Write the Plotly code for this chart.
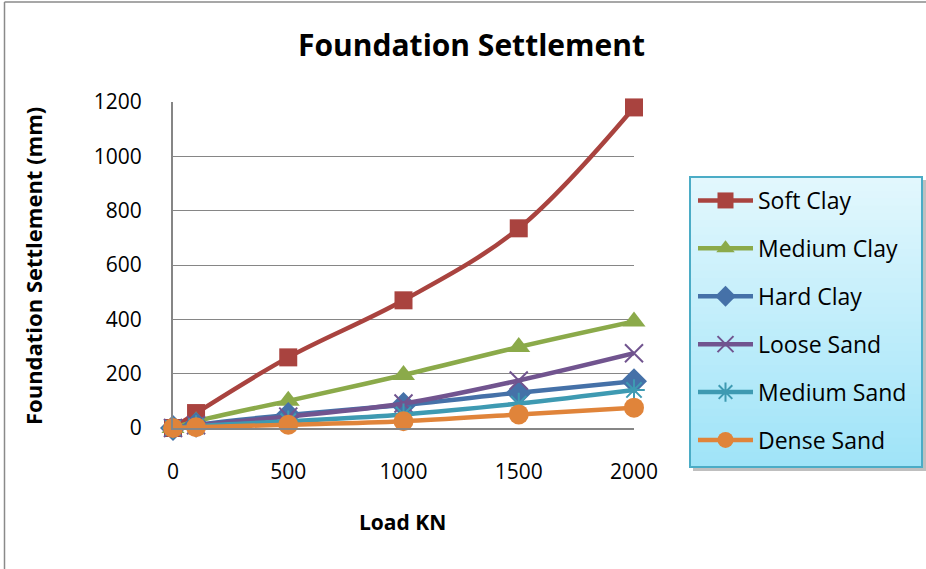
import plotly.graph_objects as go

# ---- data -------------------------------------------------------------
load_kn = [0, 100, 500, 1000, 1500, 2000]
soft_clay = [0, 55, 260, 470, 735, 1180]
medium_clay = [0, 25, 100, 195, 298, 392]
hard_clay = [0, 12, 48, 85, 130, 172]
loose_sand = [0, 10, 42, 90, 175, 275]
medium_sand = [0, 7, 25, 50, 90, 140]
dense_sand = [0, 3, 12, 25, 50, 75]

x_ticks = [0, 500, 1000, 1500, 2000]
y_ticks = [0, 200, 400, 600, 800, 1000, 1200]

series = [
    ("Soft Clay", soft_clay, "#A9433F", "square", 18),
    ("Medium Clay", medium_clay, "#8BAA4A", "triangle-up", 20),
    ("Hard Clay", hard_clay, "#4571A8", "diamond", 20),
    ("Loose Sand", loose_sand, "#71548F", "x-thin-open", 18),
    ("Medium Sand", medium_sand, "#3E9AB2", "asterisk-open", 18),
    ("Dense Sand", dense_sand, "#E0843A", "circle", 20),
]

# ---- page geometry ----------------------------------------------------
W, H = 926, 569
L, R, T, B = 173, 292, 102, 141
PW, PH = W - L - R, H - T - B
FONT = "Open Sans"


def px_x(px):
    return (px - L) / PW


def px_y(py):
    return (H - B - py) / PH


fig = go.Figure()

for i, (name, vals, color, symbol, size) in enumerate(series):
    open_sym = symbol.endswith("-open")
    fig.add_trace(go.Scatter(
        x=load_kn, y=vals, name=name, mode="lines+markers",
        legendgroup=f"g{i}",
        line=dict(color=color, width=4.5, shape="spline", smoothing=1),
        marker=dict(symbol=symbol, size=size, color=color,
                    line=dict(color=color, width=2 if open_sym else 0)),
        cliponaxis=False,
    ))

shapes = []
# outer chart border (left and top edges visible)
shapes.append(dict(type="line", xref="paper", yref="paper",
                   x0=px_x(4.5), x1=px_x(4.5), y0=px_y(2), y1=px_y(H + 5),
                   line=dict(color="#8a8a8a", width=1.5)))
shapes.append(dict(type="line", xref="paper", yref="paper",
                   x0=px_x(4.5), x1=px_x(W + 5), y0=px_y(2), y1=px_y(2),
                   line=dict(color="#8a8a8a", width=1.5)))

# legend panel: shadow, gradient fill, border
bx0, bx1, by0, by1 = 690, 922, 177, 467
shapes.append(dict(type="rect", xref="paper", yref="paper",
                   x0=px_x(bx0 + 3), x1=px_x(bx1 + 4),
                   y0=px_y(by0 + 3), y1=px_y(by1 + 4),
                   fillcolor="rgba(0,0,0,0.25)", line=dict(width=0)))
top_rgb = (226, 247, 253)
bot_rgb = (160, 228, 248)
n = 40
for k in range(n):
    t = k / (n - 1)
    c = tuple(round(a + (b - a) * t) for a, b in zip(top_rgb, bot_rgb))
    ya = by0 + (by1 - by0) * k / n
    yb = by0 + (by1 - by0) * (k + 1) / n
    shapes.append(dict(type="rect", xref="paper", yref="paper",
                       x0=px_x(bx0), x1=px_x(bx1),
                       y0=px_y(ya - 0.5), y1=px_y(yb + 0.5),
                       fillcolor="rgb(%d,%d,%d)" % c, line=dict(width=0)))
shapes.append(dict(type="rect", xref="paper", yref="paper",
                   x0=px_x(bx0), x1=px_x(bx1), y0=px_y(by0), y1=px_y(by1),
                   line=dict(color="#4BACC6", width=2)))

annotations = [
    dict(text="<b>Load KN</b>", xref="paper", yref="paper",
         x=px_x(402.5), y=px_y(522), xanchor="center", yanchor="middle",
         showarrow=False, font=dict(family=FONT, size=21, color="black")),
    dict(text="<b>Foundation Settlement (mm)</b>", xref="paper", yref="paper",
         x=px_x(33), y=px_y(266), xanchor="center", yanchor="middle",
         textangle=-90, showarrow=False,
         font=dict(family=FONT, size=22, color="black")),
]

fig.update_layout(
    width=W, height=H,
    margin=dict(l=L, r=R, t=T, b=B, pad=0),
    paper_bgcolor="white", plot_bgcolor="white",
    title=dict(text="<b>Foundation Settlement</b>", x=471.5 / W, xref="container",
               y=1 - 45 / H, yref="container", xanchor="center", yanchor="middle",
               font=dict(family=FONT, size=30, color="black")),
    xaxis=dict(range=[0, 2000], tickvals=x_ticks, showgrid=False,
               showline=True, linecolor="#868686", linewidth=2,
               zeroline=False, ticks="", ticklabelstandoff=24,
               tickfont=dict(family=FONT, size=21, color="black")),
    yaxis=dict(range=[0, 1200], tickvals=y_ticks, showgrid=True,
               gridcolor="#868686", gridwidth=1.3,
               showline=True, linecolor="#868686", linewidth=2,
               zeroline=False, ticks="", ticklabelstandoff=25,
               tickfont=dict(family=FONT, size=21, color="black")),
    legend=dict(xref="container", yref="container",
                x=693 / W, y=1 - 179 / H, xanchor="left", yanchor="top",
                bgcolor="rgba(0,0,0,0)", borderwidth=0,
                itemwidth=55, tracegroupgap=15, itemsizing="trace",
                font=dict(family=FONT, size=23, color="black")),
    shapes=shapes,
    annotations=annotations,
)

fig.write_html("out.html")
